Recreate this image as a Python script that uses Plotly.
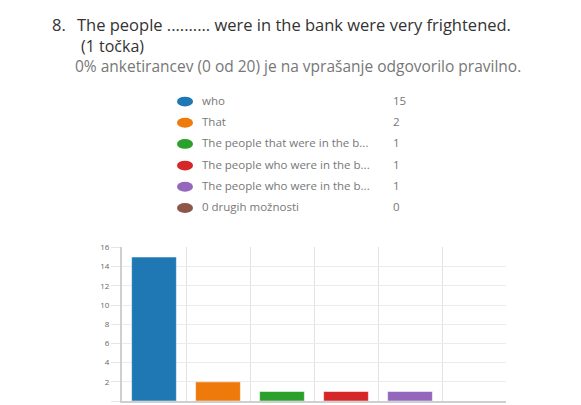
import plotly.graph_objects as go

W, H = 581, 405

title_num = "8."
title_text = "The people .......... were in the bank were very frightened."
title_points = "(1 točka)"
subtitle = "0% anketirancev (0 od 20) je na vprašanje odgovorilo pravilno."

labels = ["who", "That", "The people that were in the b...",
          "The people who were in the b...", "The people who were in the b...",
          "0 drugih možnosti"]
counts = [15, 2, 1, 1, 1, 0]
colors = ["#1f77b4", "#ee7a0c", "#2ca02c", "#d62728", "#9467bd", "#8c564b"]
y_ticks = [0, 2, 4, 6, 8, 10, 12, 14, 16]

FONT = "Open Sans, Segoe UI, sans-serif"

def px(x):
    return x / W

def py(y):
    return 1 - y / H

fig = go.Figure()
fig.add_trace(go.Bar(
    x=list(range(len(counts))),
    y=counts,
    marker=dict(color=colors, line=dict(color="rgba(255,255,255,0.55)", width=1)),
    width=0.7,
    showlegend=False,
    hoverinfo="skip",
))

annotations = [
    dict(text=title_num, x=px(51), y=py(18.7), xref="paper", yref="paper",
         xanchor="left", yanchor="middle", showarrow=False, borderpad=0,
         font=dict(family=FONT, size=16.5, color="#333333")),
    dict(text=title_text, x=px(76), y=py(18.7), xref="paper", yref="paper",
         xanchor="left", yanchor="middle", showarrow=False, borderpad=0,
         font=dict(family=FONT, size=16.5, color="#333333")),
    dict(text=title_points, x=px(80), y=py(40.3), xref="paper", yref="paper",
         xanchor="left", yanchor="middle", showarrow=False, borderpad=0,
         font=dict(family=FONT, size=16, color="#333333")),
    dict(text=subtitle, x=px(74), y=py(61.0), xref="paper", yref="paper",
         xanchor="left", yanchor="middle", showarrow=False, borderpad=0,
         font=dict(family=FONT, size=15.5, color="#777777")),
]

shapes = []
row_y = [97, 118.5, 140, 162, 183.5, 205]
for lab, cnt, col, yy in zip(labels, counts, colors, row_y):
    shapes.append(dict(type="circle", xref="paper", yref="paper",
                       x0=px(177), x1=px(193), y0=py(yy - 5), y1=py(yy + 5),
                       fillcolor=col, line=dict(width=0)))
    annotations.append(dict(text=lab, x=px(200), y=py(yy - 1), xref="paper", yref="paper",
                            xanchor="left", yanchor="middle", showarrow=False,
                            font=dict(family=FONT, size=11.5, color="#777777")))
    annotations.append(dict(text=str(cnt), x=px(391), y=py(yy - 1), xref="paper", yref="paper",
                            xanchor="left", yanchor="middle", showarrow=False,
                            font=dict(family=FONT, size=11.5, color="#777777")))

fig.update_layout(
    width=W, height=H,
    margin=dict(l=0, r=0, t=0, b=0),
    paper_bgcolor="white", plot_bgcolor="white",
    annotations=annotations,
    shapes=shapes,
    xaxis=dict(domain=[px(122), px(506)], range=[-0.5, 5.5],
               tickvals=[0.5, 1.5, 2.5, 3.5, 4.5], showticklabels=False,
               showgrid=True, gridcolor="#e3e3e3", gridwidth=1,
               zeroline=False, showline=True, linecolor="#cfcfcf", linewidth=2,
               ticks=""),
    yaxis=dict(domain=[py(401), py(245)], range=[0, 16], tickvals=y_ticks,
               showgrid=True, gridcolor="#ebebeb", gridwidth=1,
               zeroline=False, showline=True, linecolor="#cfcfcf", linewidth=2,
               ticks="outside", ticklen=9, tickcolor="#e6e6e6", tickwidth=1,
               tickfont=dict(family=FONT, size=8, color="#666666")),
)

fig.write_html("out.html", config={"displayModeBar": False},
               post_script="document.body.style.margin='0';document.body.style.overflow='hidden';")
